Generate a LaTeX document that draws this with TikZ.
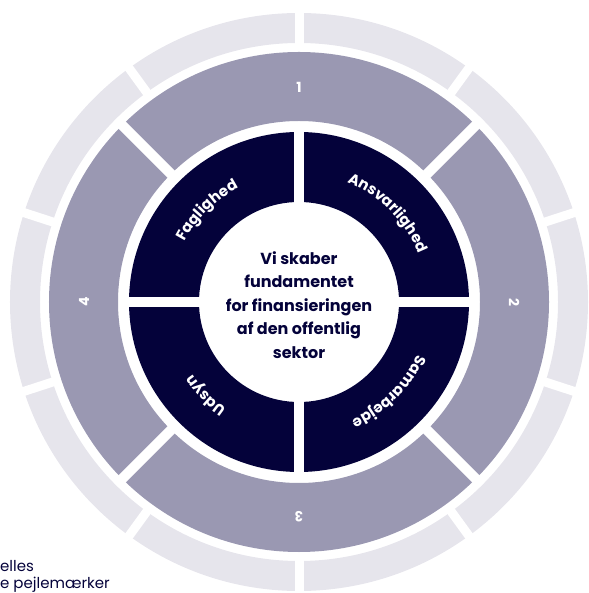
\documentclass[tikz,border=0pt]{standalone}
\usepackage{fontspec}
\setmainfont{Poppins}
\usetikzlibrary{decorations.text}

\definecolor{navy}{RGB}{4,2,58}
\definecolor{slate}{RGB}{154,152,178}
\definecolor{mist}{RGB}{230,229,236}

\newcommand{\arcfont}{\fontsize{15}{15}\selectfont\bfseries}

\begin{document}
\begin{tikzpicture}[x=1pt, y=1pt,
        ring/.style={fill=#1, even odd rule},
        gap/.style={draw=white, line width=#1},
        numlabel/.style={text=white, font=\fontsize{14}{14}\selectfont\bfseries},
        arclabel/.style={decorate, decoration={text along path, text={#1}, text align=center, text color=white}},
        core/.style={align=center, text=navy, font=\fontsize{16}{23.5}\selectfont\bfseries},
        note/.style={anchor=base west, text=navy, inner sep=0pt, font=\fontsize{15}{17}\selectfont}
    ]

    \useasboundingbox (-299,-291) rectangle (289,302);

    % Outer ring (10 parts)
    \path[ring=mist] (0,0) circle[radius=289pt] (0,0) circle[radius=259pt];
    \foreach \a in {18,54,...,342}
        \draw[gap=9pt] (\a:254pt) -- (\a:295pt);

    % Middle ring (4 parts)
    \path[ring=slate] (0,0) circle[radius=250pt] (0,0) circle[radius=181pt];
    \foreach \a in {45,135,225,315}
        \draw[gap=10pt] (\a:176pt) -- (\a:255pt);

    % Inner ring (4 parts)
    \path[ring=navy] (0,0) circle[radius=170pt] (0,0) circle[radius=100pt];
    \foreach \a in {0,90,180,270}
        \draw[gap=10pt] (\a:95pt) -- (\a:175pt);

    % Numbers
    \foreach \a/\n in {90/1, 0/2, 270/3, 180/4}
        \node[numlabel, rotate=\a-90] (num\n) at (\a:215pt) {\n};

    % Curved labels
    \path[arclabel={|\arcfont|Faglighed}] (205:129pt) arc[start angle=205, end angle=65, radius=129pt];
    \path[arclabel={|\arcfont|Ansvarlighed}] (115:129pt) arc[start angle=115, end angle=-25, radius=129pt];
    \path[arclabel={|\arcfont|Samarbejde}] (25:129pt) arc[start angle=25, end angle=-115, radius=129pt];
    \path[arclabel={|\arcfont|Udsyn}] (-65:129pt) arc[start angle=-65, end angle=-205, radius=129pt];

    % Centre
    \node[core] (mission) at (0,-3) {Vi skaber\\fundamentet\\for finansieringen\\af den offentlig\\sektor};

    % Side note
    \node[note] (note1) at (-299,-269) {elles};
    \node[note] (note2) at (-299,-286) {e pejlemærker};

\end{tikzpicture}
\end{document}
